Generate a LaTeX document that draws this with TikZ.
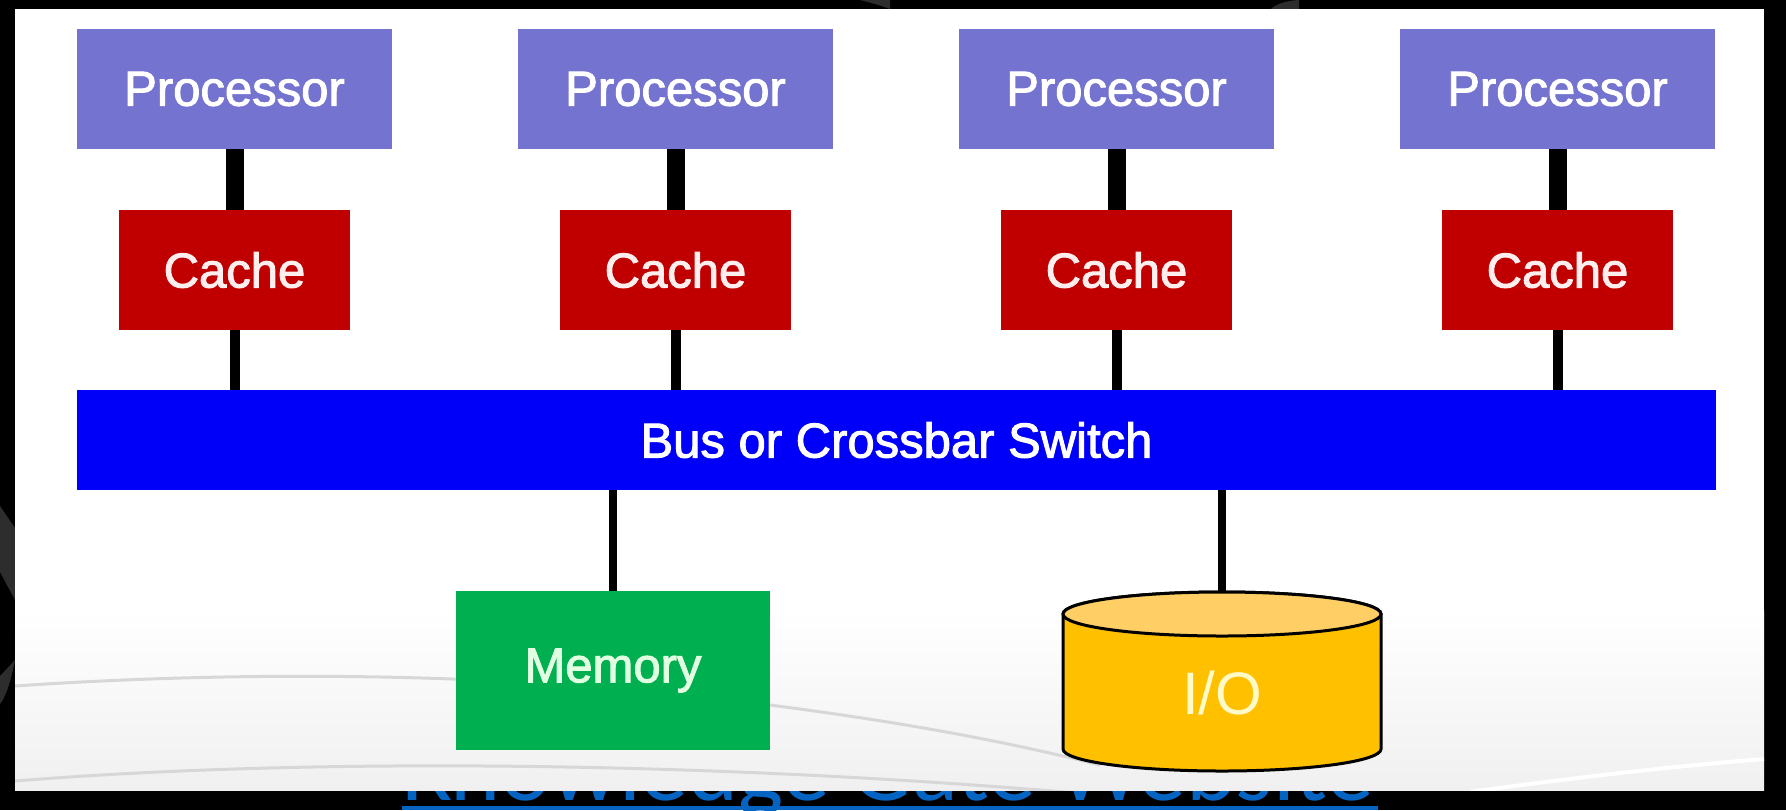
\documentclass[tikz,border=0pt]{standalone}
\usepackage{fontspec}
\usepackage{graphicx}
\setmainfont{Liberation Sans}
\newfontface\lblface{Liberation Sans}[FakeBold=2]
\newfontfamily\linkfont{Carlito}
\definecolor{proccol}{RGB}{116,116,208}
\definecolor{cachecol}{RGB}{192,0,0}
\definecolor{buscol}{RGB}{0,0,250}
\definecolor{memcol}{RGB}{0,176,80}
\definecolor{iobody}{RGB}{255,192,0}
\definecolor{iotop}{RGB}{255,206,100}
\definecolor{memtext}{RGB}{225,255,225}
\definecolor{iotext}{RGB}{255,250,200}
\definecolor{cachetext}{RGB}{255,238,238}
\definecolor{linkcol}{RGB}{5,99,193}
\definecolor{panelgrey}{RGB}{240,240,240}
\definecolor{swooshcol}{RGB}{215,215,215}
\definecolor{wmcol}{RGB}{45,45,45}
\newcommand\lblfont{\lblface\fontsize{24.5pt}{28pt}\selectfont}
\tikzset{
  box/.style={rectangle, inner sep=0pt, font=\lblfont},
  procbox/.style={box, fill=proccol, text=white, minimum width=157.5pt, minimum height=60pt},
  cachebox/.style={box, fill=cachecol, text=cachetext, minimum width=115.5pt, minimum height=60pt},
  busbox/.style={box, fill=buscol, text=white, minimum width=819.5pt, minimum height=50pt},
  membox/.style={box, fill=memcol, text=memtext, minimum width=157pt, minimum height=79.5pt},
  thickline/.style={draw=black, line width=9pt},
  midline/.style={draw=black, line width=5pt},
  thinline/.style={draw=black, line width=4pt},
  swoosh/.style={draw=swooshcol, line width=1.5pt},
}
\begin{document}
\begin{tikzpicture}[x=0.5pt,y=-0.5pt]
\useasboundingbox (0,0) rectangle (1786,810);
% black frame
\fill[black] (0,0) rectangle (1786,810);
% watermark fragments in the frame
\fill[wmcol] (0,506) -- (15,528) -- (15,600) -- (0,572) -- cycle;
\fill[wmcol] (15,660) .. controls (10,685) and (5,698) .. (0,704) -- (0,676) -- cycle;
\fill[wmcol] (860,0) .. controls (872,3) and (882,6) .. (890,9) -- (890,0) -- cycle;
\fill[wmcol] (1271,9) .. controls (1276,4) and (1285,1) .. (1299,0) -- (1299,9) -- cycle;
% link text partly hidden behind the panel
\node[anchor=base west, inner sep=0pt, text=linkcol] (kgw) at (402,800)
  {\resizebox{485.5pt}{!}{\linkfont Knowledge Gate Website}};
\fill[linkcol] (402,806) rectangle (1378,810);
% white panel with light bottom shading
\fill[white] (15,9) rectangle (1764,790);
\shade[top color=white, bottom color=panelgrey] (15,610) rectangle (1764,790);
% faint swooshes
\begin{scope}
\clip (15,9) rectangle (1764,790);
\draw[swoosh] (15,686) .. controls (250,670) and (520,672) .. (770,705) .. controls (900,722) and (1000,740) .. (1100,765);
\draw[swoosh] (15,781) .. controls (300,758) and (700,760) .. (1100,795);
\draw[draw=white, line width=2pt] (1470,792) .. controls (1600,774) and (1700,764) .. (1764,759);
\end{scope}
% processors
\node[procbox] (p1) at (234.5,89) {Processor};
\node[procbox] (p2) at (675.5,89) {Processor};
\node[procbox] (p3) at (1116.5,89) {Processor};
\node[procbox] (p4) at (1557.5,89) {Processor};
% caches
\node[cachebox] (c1) at (234.5,270) {Cache};
\node[cachebox] (c2) at (675.5,270) {Cache};
\node[cachebox] (c3) at (1116.5,270) {Cache};
\node[cachebox] (c4) at (1557.5,270) {Cache};
% bus
\node[busbox] (bus) at (896.5,440) {Bus or Crossbar Switch};
% memory
\node[membox] (mem) at (613,670.5) {Memory};
% I/O cylinder
\node[inner sep=0pt, minimum width=159pt, minimum height=89.5pt] (io) at (1222,681.5) {};
\path[draw=black, line width=1.5pt, fill=iobody]
  (1063,614) -- (1063,749)
  arc[start angle=180, end angle=360, x radius=79.5pt, y radius=11pt]
  -- (1381,614)
  arc[start angle=0, end angle=180, x radius=79.5pt, y radius=11pt] -- cycle;
\draw[black, line width=1.5pt, fill=iotop] (1222,614) ellipse [x radius=79.5pt, y radius=11pt];
\node[inner sep=0pt, text=iotext, font=\fontsize{30pt}{34pt}\selectfont] (iolbl) at (1222,693) {I/O};
% connectors
\foreach \i in {1,2,3,4}{
  \draw[thickline] (p\i.south) -- (c\i.north);
  \draw[midline] (c\i.south) -- (c\i.south |- bus.north);
}
\draw[thinline] (mem.north |- bus.south) -- (mem.north);
\draw[thinline] (io.north |- bus.south) -- (io.north);
\end{tikzpicture}
\end{document}
